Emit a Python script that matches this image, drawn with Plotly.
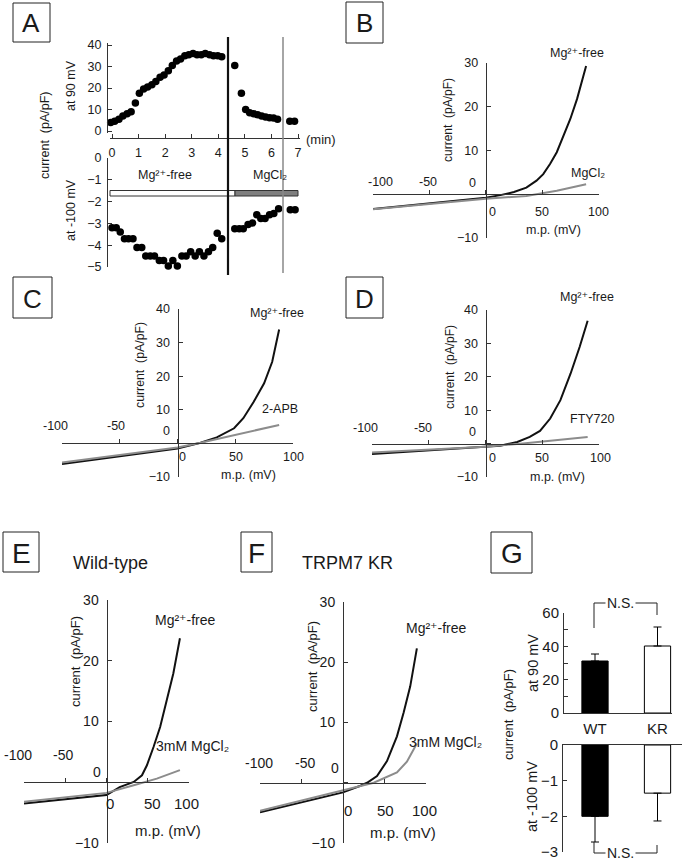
import plotly.graph_objects as go

W, H = 685, 864
FONT = "Liberation Sans, Arial, DejaVu Sans, sans-serif"
TXT = "#1a1a1a"
AX = "#333333"
GREY = "#8c8c8c"
MG_FREE = "Mg\u00b2\u207a-free"
MGCL2 = "MgCl\u2082"

# ---------------- data ----------------
# Panel A: time course (min) of current at +90 mV and -100 mV
a_time_90 = [-0.05, 0.10, 0.26, 0.41, 0.57, 0.72, 0.88, 1.03, 1.19, 1.34,
             1.50, 1.65, 1.81, 1.96, 2.12, 2.27, 2.43, 2.58, 2.74, 2.89,
             3.05, 3.20, 3.36, 3.51, 3.67, 3.82, 3.98, 4.13,
             4.62, 4.87, 5.03, 5.18, 5.33, 5.48, 5.63, 5.78, 5.93, 6.08, 6.23,
             6.69, 6.87]
a_cur_90 = [4, 4.5, 5.5, 7, 8, 9, 13, 17.5, 19.5, 20.5,
            21.5, 23, 25, 26, 28, 30.5, 32.5, 33.5, 35, 35.5,
            36, 35.5, 35.5, 36, 35.5, 35, 35, 34.5,
            30.5, 17.5, 10, 8.5, 8, 7.5, 7, 6.5, 6.2, 6, 5.5,
            4.5, 4.5]
a_time_100 = [0.0, 0.16, 0.31, 0.47, 0.62, 0.79, 0.94, 1.12, 1.27, 1.44,
              1.60, 1.78, 1.94, 2.12, 2.29, 2.46, 2.63, 2.79, 2.96, 3.13,
              3.29, 3.46, 3.63, 3.79, 3.96, 4.13,
              4.62, 4.79, 4.94, 5.12, 5.29, 5.45, 5.60, 5.76, 5.93, 6.09, 6.27,
              6.71, 6.89]
a_cur_100 = [-3.2, -3.2, -3.4, -3.7, -3.7, -3.7, -4.1, -4.1, -4.5, -4.5,
             -4.5, -4.7, -4.7, -4.95, -4.7, -4.95, -4.5, -4.5, -4.3, -4.5,
             -4.3, -4.5, -4.3, -4.1, -3.45, -3.7,
             -3.25, -3.25, -3.25, -3.05, -2.98, -2.6, -2.78, -2.78, -2.6, -2.55, -2.33,
             -2.37, -2.37]
a_time_ticks = [0, 1, 2, 3, 4, 5, 6, 7]
a_90_ticks = [0, 10, 20, 30, 40]
a_100_ticks = [0, -1, -2, -3, -4, -5]

# I-V curves (membrane potential mV, current pA/pF)
b_mp_free = [-100, -50, 0, 13, 25, 36, 45, 51, 57, 63, 69, 75, 81, 89]
b_i_free = [-3.4, -2.1, -0.8, -0.2, 0.5, 1.5, 3.1, 4.6, 6.9, 9.6, 13.4, 17.2, 21.8, 29.3]
b_mp_mg = [-100, -50, 0, 36, 63, 89]
b_i_mg = [-3.4, -2.2, -1.0, -0.4, 0.8, 2.3]

c_mp_free = [-100, -50, 0, 20, 34, 49, 57, 66, 75, 82, 88]
c_i_free = [-6.1, -3.8, -1.5, 0.2, 1.8, 4.5, 7.5, 12.4, 17.9, 24.3, 33.9]
c_mp_apb = [-100, -50, 0, 20, 49, 88]
c_i_apb = [-5.7, -3.5, -1.2, 0.2, 2.5, 5.5]

d_mp_free = [-100, -50, 0, 13, 28, 39, 48, 57, 66, 75, 83, 90]
d_i_free = [-3.1, -2.0, -0.95, -0.65, 0.5, 2.0, 3.8, 7.5, 13, 21, 29, 36.8]
d_mp_fty = [-100, -50, 0, 33, 63, 90]
d_i_fty = [-2.7, -1.8, -0.95, 0.05, 1.05, 2.0]

e_mp_free = [-100, -50, 0, 16, 33, 43, 49, 57, 65, 73, 81, 89]
e_i_free = [-3.5, -2.8, -2.1, -0.8, 0.05, 1.15, 2.8, 5.8, 9.1, 13.5, 17.9, 23.7]
e_mp_mg = [-100, -50, 0, 33, 61, 89]
e_i_mg = [-3.2, -2.5, -1.75, -0.5, 0.6, 2.0]

f_mp_free = [-100, -50, 0, 21, 29, 41, 53, 65, 73, 81, 89]
f_i_free = [-4.9, -3.2, -1.6, -0.5, 0.0, 1.1, 3.6, 7.7, 11.6, 16, 22.3]
f_mp_mg = [-100, -50, 0, 37, 65, 77, 89]
f_i_mg = [-4.65, -3.0, -1.3, 0.0, 1.7, 3.5, 6.5]

mp_ticks = [-100, -50, 0, 50, 100]
mp_tick_labels = ["-100", "-50", "0", "50", "100"]

# Panel G: summary bars
g_groups = ["WT", "KR"]
g_90_mean = [31.2, 40.2]
g_90_sem = [4.2, 11.4]
g_100_mean = [-2.0, -1.35]
g_100_sem = [0.72, 0.78]
g_90_ticks = [0, 20, 40, 60]
g_90_minor = [10, 30, 50]
g_100_ticks = [0, -1, -2, -3]

# ---------------- helpers ----------------
def PX(x):
    return x / W


def PY(y):
    return 1 - y / H


fig = go.Figure()
layout = dict(width=W, height=H, margin=dict(l=0, r=0, t=0, b=0, pad=0),
              paper_bgcolor="white", plot_bgcolor="rgba(0,0,0,0)",
              showlegend=False, font=dict(family=FONT, color=TXT))
annotations = []
shapes = []

base = dict(showgrid=False, zeroline=False, showline=True, linecolor=AX,
            linewidth=1, ticks="inside", ticklen=4, tickcolor=AX, tickwidth=1,
            automargin=False)


def ann(x, y, text, size, rot=0, **kw):
    d = dict(x=PX(x), y=PY(y), xref="paper", yref="paper", text=text,
             showarrow=False, font=dict(size=size, family=FONT, color=TXT),
             textangle=rot, xanchor="center", yanchor="middle")
    d.update(kw)
    annotations.append(d)


def box(x0, y0, x1, y1, letter, size):
    shapes.append(dict(type="rect", xref="paper", yref="paper",
                       x0=PX(x0), x1=PX(x1), y0=PY(y1), y1=PY(y0),
                       line=dict(color="#222", width=1), fillcolor="white"))
    ann((x0 + x1) / 2, (y0 + y1) / 2 + 1, letter, size)


def line(pts, color="#222", width=1):
    path = "M " + " L ".join(f"{PX(x)},{PY(y)}" for x, y in pts)
    shapes.append(dict(type="path", xref="paper", yref="paper", path=path,
                       line=dict(color=color, width=width)))


# ---------------- Panel A ----------------
ax_xl, ax_xr = 110, 300
t0px, t7px = 112, 298
sc = (t7px - t0px) / 7
a_xrange = [(ax_xl - t0px) / sc, (ax_xr - t0px) / sc]
top_scale = (131 - 45) / 40
layout["xaxis"] = dict(base, domain=[PX(ax_xl), PX(ax_xr)], range=a_xrange,
                       anchor="free", position=PY(138), tickvals=a_time_ticks,
                       tickfont=dict(size=12.5), ticklabelstandoff=3)
layout["yaxis"] = dict(base, domain=[PY(133), PY(43)],
                       range=[(131 - 133) / top_scale, (131 - 43) / top_scale],
                       anchor="free", position=PX(107), tickvals=a_90_ticks,
                       tickfont=dict(size=12.5), ticklabelstandoff=3)
fig.add_trace(go.Scatter(x=a_time_90, y=a_cur_90, mode="markers",
                         marker=dict(color="black", size=7.5),
                         xaxis="x", yaxis="y", cliponaxis=False))
layout["xaxis2"] = dict(domain=[PX(ax_xl), PX(ax_xr)], range=a_xrange,
                        visible=False, anchor="y2", automargin=False)
layout["yaxis2"] = dict(base, domain=[PY(267), PY(158)], range=[-5, 0],
                        anchor="free", position=PX(107), tickvals=a_100_ticks,
                        tickfont=dict(size=12.5), ticklabelstandoff=3)
fig.add_trace(go.Scatter(x=a_time_100, y=a_cur_100, mode="markers",
                         marker=dict(color="black", size=7.5),
                         xaxis="x2", yaxis="y2", cliponaxis=False))
shapes.append(dict(type="rect", xref="paper", yref="paper", x0=PX(110), x1=PX(235),
                   y0=PY(196), y1=PY(190.5), fillcolor="white",
                   line=dict(color="#333", width=1)))
shapes.append(dict(type="rect", xref="paper", yref="paper", x0=PX(235), x1=PX(298),
                   y0=PY(196), y1=PY(190.5), fillcolor="#7f7f7f",
                   line=dict(color="#333", width=1)))
line([(228, 37), (228, 275)], "#111", 2.2)
line([(283, 37), (283, 273)], "#888", 1.5)
ann(165, 175, MG_FREE, 12.5)
ann(270, 175, MGCL2, 12.5)
ann(321, 140, "(min)", 13)
ann(71, 86, "at 90 mV", 12.5, -90)
ann(71, 210, "at -100 mV", 12.5, -90)
ann(45, 135, "current  (pA/pF)", 12.5, -90)
box(13, 3, 50, 42, "A", 26)


# ---------------- I-V panels ----------------
def iv_panel(n, xl, xr, ytop, ybot, ymin, ymax, yticks, fs, xfs, curves, labels):
    x0px = xl + (0 + 100) / 200 * (xr - xl)
    y0px = ybot - (0 - ymin) / (ymax - ymin) * (ybot - ytop)
    layout[f"xaxis{n}"] = dict(base, domain=[PX(xl), PX(xr)], range=[-100, 100],
                               anchor="free", position=PY(y0px),
                               tickvals=mp_ticks, showticklabels=False)
    layout[f"yaxis{n}"] = dict(base, domain=[PY(ybot), PY(ytop)], range=[ymin, ymax],
                               anchor="free", position=PX(x0px),
                               tickvals=[v for v in yticks if v != 0],
                               minor=dict(tickvals=[0], ticks="inside", ticklen=4,
                                          tickcolor=AX),
                               tickfont=dict(size=fs), ticklabelstandoff=5)
    for xs, ys, col in curves:
        fig.add_trace(go.Scatter(x=xs, y=ys, mode="lines",
                                 line=dict(color=col, width=2),
                                 xaxis=f"x{n}", yaxis=f"y{n}", cliponaxis=False))
    for i, ((lx, ly), txt) in enumerate(zip(labels, mp_tick_labels)):
        ann(lx, ly, txt, fs if i < 2 else xfs)


# B
iv_panel(3, 373, 598.5, 63, 238, -10, 30, [-10, 0, 10, 20, 30], 12.5, 12.5,
         [(b_mp_free, b_i_free, "#111"), (b_mp_mg, b_i_mg, GREY)],
         [(380, 182), (428, 182), (492, 212), (542, 212), (598, 212)])
ann(473, 183, "0", 12.5)
ann(448, 120, "current  (pA/pF)", 12, -90)
ann(553, 230, "m.p. (mV)", 12.5)
ann(577, 53, MG_FREE, 12.5)
ann(588, 173, MGCL2, 12.5)
box(346, 2, 383, 43, "B", 26)

# C
iv_panel(4, 62, 293, 309, 477, -10, 40, [-10, 0, 10, 20, 30, 40], 12.5, 12.5,
         [(c_mp_free, c_i_free, "#111"), (c_mp_apb, c_i_apb, GREY)],
         [(55, 426), (116, 426), (183, 457), (236, 457), (293, 457)])
ann(166, 431, "0", 12.5)
ann(140, 365, "current  (pA/pF)", 12.3, -90)
ann(248, 475, "m.p. (mV)", 12.5)
ann(277, 313, MG_FREE, 12.5)
ann(280, 409, "2-APB", 12.5)
box(13, 277, 52, 318, "C", 26)

# D
iv_panel(5, 372, 599, 310, 477, -10, 40, [-10, 0, 10, 20, 30, 40], 12.5, 12.5,
         [(d_mp_free, d_i_free, "#111"), (d_mp_fty, d_i_fty, GREY)],
         [(365, 428), (423, 428), (492, 458), (542, 458), (600, 458)])
ann(472, 432, "0", 12.5)
ann(450, 367, "current  (pA/pF)", 12, -90)
ann(557, 477, "m.p. (mV)", 12.5)
ann(587, 297, MG_FREE, 12.5)
ann(592, 419, "FTY720", 12.5)
box(346, 277, 383, 318, "D", 26)

# E
iv_panel(6, 24, 189, 600, 843, -10, 30, [-10, 0, 10, 20, 30], 14, 15,
         [(e_mp_free, e_i_free, "#111"), (e_mp_mg, e_i_mg, GREY)],
         [(18, 755), (63, 755), (110, 803), (152, 803), (187, 803)])
ann(97, 772, "0", 14)
ann(75, 662, "current  (pA/pF)", 13, -90)
ann(168, 830, "m.p. (mV)", 15)
ann(185, 620, MG_FREE, 14)
ann(192, 746, "3mM " + MGCL2, 14)
ann(110, 563, "Wild-type", 18)
box(3, 532, 39, 572, "E", 28)

# F
iv_panel(7, 260, 426, 602, 843, -10, 30, [-10, 0, 10, 20, 30], 14, 15,
         [(f_mp_free, f_i_free, "#111"), (f_mp_mg, f_i_mg, GREY)],
         [(259, 763), (305, 763), (348, 810), (385, 810), (424, 810)])
ann(335, 768, "0", 14)
ann(312, 667, "current  (pA/pF)", 13, -90)
ann(403, 832, "m.p. (mV)", 15)
ann(436, 628, MG_FREE, 14)
ann(445, 742, "3mM " + MGCL2, 14)
ann(347, 563, "TRPM7 KR", 18)
box(241, 532, 272, 572, "F", 28)

# ---------------- Panel G ----------------
wt_px, kr_px = 595, 657.5
unit = kr_px - wt_px
layout["xaxis8"] = dict(base, domain=[PX(563), PX(672)], type="category",
                        range=[(563 - wt_px) / unit, (672 - wt_px) / unit],
                        anchor="y8", ticks="", tickfont=dict(size=15),
                        ticklabelstandoff=2)
layout["yaxis8"] = dict(base, domain=[PY(713), PY(613)], range=[0, 60],
                        anchor="free", position=PX(563), tickvals=g_90_ticks,
                        minor=dict(tickvals=g_90_minor, ticks="inside", ticklen=4,
                                   tickcolor=AX),
                        tickfont=dict(size=15), ticklabelstandoff=1)
fig.add_trace(go.Bar(x=g_groups, y=g_90_mean, width=0.42,
                     marker=dict(color=["black", "white"], line=dict(color="black", width=1)),
                     error_y=dict(type="data", symmetric=False, array=g_90_sem,
                                  arrayminus=[0, 0], color="black", thickness=1, width=4),
                     xaxis="x8", yaxis="y8", cliponaxis=False))
layout["xaxis9"] = dict(base, domain=[PX(562), PX(682)], type="category",
                        range=[(562 - wt_px) / unit, (682 - wt_px) / unit],
                        anchor="y9", side="top", ticks="", showticklabels=False)
layout["yaxis9"] = dict(base, domain=[PY(852), PY(745)], range=[-3, 0],
                        anchor="free", position=PX(562), tickvals=g_100_ticks,
                        tickfont=dict(size=15), ticklabelstandoff=1)
fig.add_trace(go.Bar(x=g_groups, y=g_100_mean, width=0.42,
                     marker=dict(color=["black", "white"], line=dict(color="black", width=1)),
                     error_y=dict(type="data", symmetric=False, array=[0, 0],
                                  arrayminus=g_100_sem, color="black", thickness=1, width=4),
                     xaxis="x9", yaxis="y9", cliponaxis=False))
line([(594, 628), (594, 603), (657, 603), (657, 615)], "#222", 1)
line([(594, 842), (594, 853), (657, 853), (657, 845)], "#222", 1)
ann(620, 603, "N.S.", 14, bgcolor="white")
ann(620, 853, "N.S.", 14, bgcolor="white")
ann(533, 663, "at 90 mV", 14.5, -90)
ann(532, 797, "at -100 mV", 14.5, -90)
ann(508, 715, "current  (pA/pF)", 13, -90)
box(491, 532, 532, 573, "G", 28)

layout["annotations"] = annotations
layout["shapes"] = shapes
fig.update_layout(**layout)
fig.write_html("out.html", config={"displayModeBar": False},
               post_script="document.body.style.margin='0';document.body.style.overflow='hidden';")
